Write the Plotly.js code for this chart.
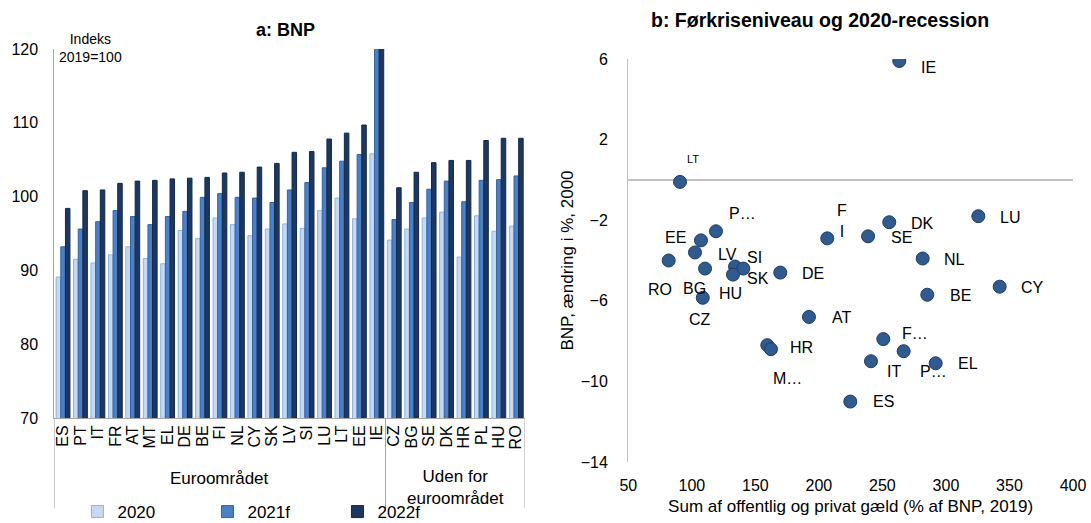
<!DOCTYPE html>
<html>
<head>
<meta charset="utf-8">
<script src="https://cdn.plot.ly/plotly-3.0.1.min.js"></script>
<style>
  html, body { margin: 0; padding: 0; background: #ffffff; overflow: hidden; }
  #chart { width: 1091px; height: 523px; }
</style>
</head>
<body>
<div id="chart"></div>
<script>
// ---------- Panel a: BNP, indeks 2019 = 100 ----------
const countries = ['ES','PT','IT','FR','AT','MT','EL','DE','BE','FI','NL','CY','SK','LV','SI','LU','LT','EE','IE',
                   'CZ','BG','SE','DK','HR','PL','HU','RO'];
const gdp2020  = [89.1, 91.5, 91.0, 92.1, 93.2, 91.6, 90.9, 95.4, 94.3, 97.1, 96.2, 94.7, 95.6, 96.3, 95.7, 98.1, 99.8, 97.0, 105.8,
                  94.1, 95.6, 97.1, 97.9, 91.8, 97.4, 95.3, 96.0];
const gdp2021f = [93.2, 95.6, 96.6, 98.1, 97.3, 96.2, 97.3, 98.0, 99.9, 100.4, 99.9, 99.8, 99.2, 100.9, 101.9, 103.9, 104.8, 105.7, 121.5,
                  96.9, 99.2, 101.0, 102.1, 99.3, 102.2, 102.3, 102.8];
const gdp2022f = [98.4, 100.8, 100.9, 101.8, 102.1, 102.2, 102.4, 102.5, 102.6, 103.2, 103.3, 104.0, 104.5, 106.0, 106.1, 107.8, 108.6, 109.7, 125.0,
                  101.2, 103.3, 104.6, 104.9, 104.9, 107.6, 107.9, 107.9];
const seriesNames = ['2020', '2021f', '2022f'];
const euroCount = 19;
const groupLabels = ['Euroområdet', 'Uden for<br>euroområdet'];

// ---------- Panel b: Førkriseniveau og 2020-recession ----------
const scatterCodes  = ['IE','LT','LU','DK','PL','SE','FI','EE','LV','NL','RO','SI','SK','BG','DE','HU','CY','BE','CZ','AT','FR','HR','MT','PT','IT','EL','ES'];
const scatterLabels = ['IE','LT','LU','DK','P…','SE','F<br>I','EE','LV','NL','RO','SI','SK','BG','DE','HU','CY','BE','CZ','AT','F…','HR','M…','P…','IT','EL','ES'];
const debt2019      = [263.3, 90.7, 325.5, 255.4, 119.0, 238.7, 206.6, 107.2, 102.5, 281.7, 81.8, 134.0, 140.5, 110.4, 169.6, 132.4, 342.3, 285.3, 108.6, 192.2, 250.7, 159.4, 162.3, 266.7, 241.0, 291.9, 224.7];
const gdpChange2020 = [5.9, -0.1, -1.8, -2.1, -2.55, -2.8, -2.9, -3.0, -3.6, -3.9, -4.0, -4.3, -4.4, -4.4, -4.6, -4.7, -5.3, -5.7, -5.85, -6.8, -7.9, -8.2, -8.4, -8.5, -9.0, -9.1, -11.0];

// Label placement next to each point, in screen pixels (right, down)
const labelOffset = [[29,6],[13,-23],[32,1],[33,1],[27,-18],[33,1],[15,-17],[-25,-3],[32,2],[32,1],[-9,29],[19,-9],[15,10],[-11,20],[33,1],[-2,19],[33,1],[33,1],[-3,22],[33,1],[32,-6],[34,2],[17,29],[30,20],[23,10],[32,0],[33,0]];

const FONT = 'Liberation Sans, Arial, sans-serif';
const GREY = '#a6a6a6';

const barColors = [
  { fill: '#c6d9f1', line: '#8db3e2' },
  { fill: '#4a80c9', line: '#35639f' },
  { fill: '#1c3862', line: '#13284a' }
];

const barSeries = [gdp2020, gdp2021f, gdp2022f];
const traces = barSeries.map((vals, i) => ({
  type: 'bar',
  name: seriesNames[i],
  x: countries,
  y: vals,
  xaxis: 'x',
  yaxis: 'y',
  marker: { color: barColors[i].fill, line: { color: barColors[i].line, width: 1 } },
  hoverinfo: 'x+y+name'
}));

traces.push({
  type: 'scatter',
  mode: 'markers',
  x: debt2019,
  y: gdpChange2020,
  text: scatterCodes,
  xaxis: 'x2',
  yaxis: 'y2',
  showlegend: false,
  marker: { size: 13, color: '#2f5b8f', line: { color: '#1e3d66', width: 1 } },
  hoverinfo: 'text+x+y'
});

const annotations = [];
// panel titles
annotations.push({ text: '<b>a: BNP</b>', xref: 'paper', yref: 'paper', x: 0.262, y: 0.943, xanchor: 'center', yanchor: 'middle',
                   showarrow: false, font: { family: FONT, size: 18, color: '#000' } });
annotations.push({ text: '<b>b: Førkriseniveau og 2020-recession</b>', xref: 'paper', yref: 'paper', x: 0.752, y: 0.961, xanchor: 'center', yanchor: 'middle',
                   showarrow: false, font: { family: FONT, size: 19.5, color: '#000' } });
// unit note
annotations.push({ text: 'Indeks<br>2019=100', xref: 'paper', yref: 'paper', x: 0.0825, y: 0.908, xanchor: 'center', yanchor: 'middle',
                   showarrow: false, align: 'center', font: { family: FONT, size: 14, color: '#000' } });
// group labels under the categories
annotations.push({ text: groupLabels[0], xref: 'x', yref: 'paper', x: (euroCount - 1) / 2, y: 0.086, xanchor: 'center', yanchor: 'middle',
                   showarrow: false, font: { family: FONT, size: 17, color: '#000' } });
annotations.push({ text: groupLabels[1], xref: 'x', yref: 'paper', x: euroCount + (countries.length - euroCount - 1) / 2, y: 0.068, xanchor: 'center', yanchor: 'middle',
                   showarrow: false, font: { family: FONT, size: 17, color: '#000' } });
// point labels
scatterLabels.forEach((lab, i) => {
  annotations.push({
    text: lab, xref: 'x2', yref: 'y2', x: debt2019[i], y: gdpChange2020[i],
    xshift: labelOffset[i][0], yshift: -labelOffset[i][1],
    showarrow: false, xanchor: 'center', yanchor: 'middle',
    font: { family: FONT, size: scatterCodes[i] === 'LT' ? 11 : 16, color: '#000' }
  });
});

// dividers for the category groups
const divY0 = 0.2008, divY1 = 0.028;
const shapes = [-0.5, euroCount - 0.5, countries.length - 0.5].map(xv => ({
  type: 'line', xref: 'x', yref: 'paper', x0: xv, x1: xv, y0: divY0, y1: divY1,
  line: { color: GREY, width: 1 }
}));

const layout = {
  width: 1091,
  height: 523,
  margin: { l: 0, r: 0, t: 0, b: 0, autoexpand: false },
  paper_bgcolor: '#ffffff',
  plot_bgcolor: '#ffffff',
  font: { family: FONT, size: 16, color: '#000' },
  barmode: 'group',
  bargap: 0.2,
  bargroupgap: 0.03,
  showlegend: true,
  legend: {
    orientation: 'h', x: 0.071, y: 0.021, xanchor: 'left', yanchor: 'middle',
    entrywidth: 85, entrywidthmode: 'pixels',
    font: { family: FONT, size: 17, color: '#000' },
    bgcolor: 'rgba(0,0,0,0)', itemclick: false, itemdoubleclick: false
  },
  xaxis: {
    domain: [0.0498, 0.4812], type: 'category', range: [-0.5, countries.length - 0.5],
    tickmode: 'linear', tick0: 0, dtick: 1,
    tickangle: -90, tickfont: { family: FONT, size: 16 },
    showline: true, linecolor: GREY, linewidth: 1, ticks: '', showgrid: false, zeroline: false,
    automargin: false, fixedrange: true
  },
  yaxis: {
    domain: [0.2008, 0.9063], range: [70, 120], dtick: 10,
    showline: true, linecolor: GREY, linewidth: 1, showgrid: false, zeroline: false,
    ticks: 'outside', ticklen: 12, tickcolor: 'rgba(0,0,0,0)', tickfont: { family: FONT, size: 16 },
    automargin: false, fixedrange: true
  },
  xaxis2: {
    domain: [0.5759, 0.9835], range: [50, 400], dtick: 50, anchor: 'y2',
    showline: false, showgrid: false, zeroline: false,
    ticks: 'outside', ticklen: 9, tickcolor: 'rgba(0,0,0,0)', tickfont: { family: FONT, size: 16 },
    title: { text: 'Sum af offentlig og privat gæld (% af BNP, 2019)', font: { family: FONT, size: 17 }, standoff: 6 },
    automargin: false, fixedrange: true
  },
  yaxis2: {
    domain: [0.1166, 0.8872], range: [-14, 6], tickvals: [-14, -10, -6, -2, 2, 6], anchor: 'x2',
    showline: true, linecolor: '#c0c0c0', linewidth: 1.3, showgrid: false,
    zeroline: true, zerolinecolor: '#c0c0c0', zerolinewidth: 1.3,
    ticks: 'outside', ticklen: 16, tickcolor: 'rgba(0,0,0,0)', tickfont: { family: FONT, size: 16 },
    title: { text: 'BNP, ændring i %, 2000', font: { family: FONT, size: 17 }, standoff: 2 },
    automargin: false, fixedrange: true
  },
  annotations: annotations,
  shapes: shapes
};

Plotly.newPlot('chart', traces, layout, { displayModeBar: false, staticPlot: true });
</script>
</body>
</html>
